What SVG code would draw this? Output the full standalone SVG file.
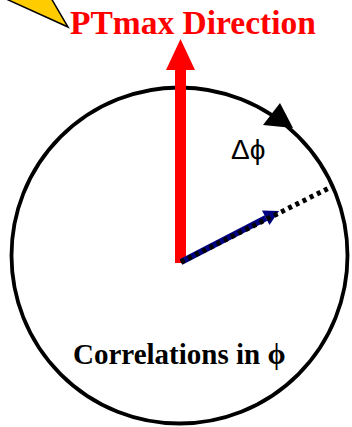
<svg xmlns="http://www.w3.org/2000/svg" width="352" height="427" viewBox="0 0 352 427">
  <style>
    .title { font-family: "Liberation Serif", "Times New Roman", serif; font-weight: bold; font-size: 33.5px; fill: #FF0000; }
    .label { font-family: "Liberation Serif", "Times New Roman", serif; font-weight: bold; font-size: 29px; fill: #000000; }
    .delta { font-family: "Liberation Sans", Arial, sans-serif; font-size: 28px; fill: #000000; }
  </style>
  <rect width="352" height="427" fill="#FFFFFF"/>
  <g id="callout">
    <polygon points="4,-2 68,27 51,-2" fill="#FFCC00" stroke="#000000" stroke-width="1.5" stroke-linejoin="miter"/>
  </g>
  <g id="title">
    <text class="title" x="70" y="34">PTmax Direction</text>
  </g>
  <g id="circle">
    <circle cx="179.5" cy="255.5" r="168" fill="none" stroke="#000000" stroke-width="3.8"/>
    <polygon points="280,103 263,125 293,128" fill="#000000"/>
  </g>
  <g id="connectors">
    <polygon id="ptmax-arrow" points="175,263 186,263 186,70 195,70 180.5,39 166,70 175,70" fill="#FF0000"/>
    <g id="phi-arrow">
      <line x1="181" y1="262" x2="266" y2="218" stroke="#000080" stroke-width="6"/>
      <polygon points="279,211 262,210.5 269.5,225" fill="#000080"/>
      <line x1="181" y1="262" x2="333" y2="186" stroke="#000000" stroke-width="5" stroke-dasharray="4,4"/>
    </g>
  </g>
  <g id="delta-phi">
    <text class="delta" x="231" y="159">Δϕ</text>
  </g>
  <g id="correlations">
    <text class="label" x="73" y="364">Correlations in ϕ</text>
  </g>
</svg>
